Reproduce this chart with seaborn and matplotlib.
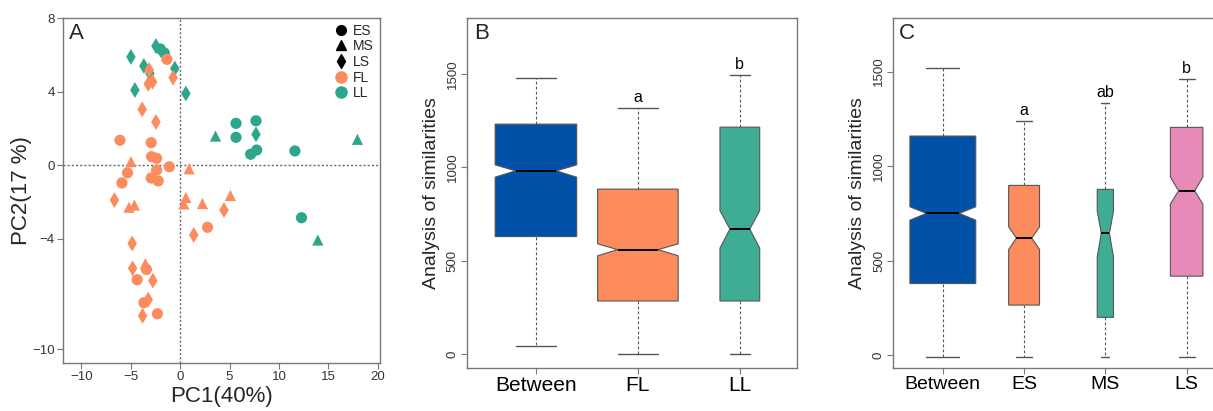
import pandas as pd
import matplotlib
matplotlib.use('Agg')
import matplotlib.pyplot as plt
import seaborn as sns
from matplotlib.lines import Line2D

# ---- Panel A: PCA scores ----
pc1_ll = [-4.98, -3.67, -3.06, -4.58, -2.45, -2.0, -1.6, -0.54, 0.58, 3.58,
          5.66, 5.66, 7.68, 7.68, 7.14, 7.75, 11.62, 17.95, 12.29, 13.94]
pc2_ll = [5.89, 5.40, 4.99, 4.09, 6.48, 6.32, 6.10, 5.26, 3.90, 1.59,
          2.28, 1.52, 2.42, 1.68, 0.60, 0.83, 0.78, 1.41, -2.85, -4.06]
stage_ll = ['LS', 'LS', 'LS', 'LS', 'LS', 'ES', 'ES', 'LS', 'LS', 'MS',
            'ES', 'ES', 'ES', 'LS', 'ES', 'ES', 'ES', 'MS', 'ES', 'MS']

pc1_fl = [-1.34, -3.13, -0.71, -3.23, -2.79, -3.84, -2.45, -6.09, -2.93, -2.89,
          -2.38, -4.98, -1.09, 0.91, -5.33, -2.38, -2.93, -2.22, -5.89, -6.65,
          -5.18, -4.63, 0.58, 0.37, 2.26, 5.09, 4.44, 2.77, 1.38, -4.85,
          -4.81, -3.52, -3.41, -4.35, -2.76, -3.23, -3.67, -3.80, -2.30]
pc2_fl = [5.76, 5.18, 4.76, 4.42, 4.54, 3.04, 2.35, 1.36, 1.23, 0.47,
          0.38, 0.20, -0.08, -0.19, -0.41, -0.26, -0.69, -0.85, -0.96, -1.89,
          -2.28, -2.16, -1.75, -2.10, -2.08, -1.64, -2.43, -3.37, -3.79, -4.25,
          -5.60, -5.34, -5.66, -6.22, -6.27, -7.30, -7.47, -8.18, -8.07]
stage_fl = ['ES', 'LS', 'LS', 'LS', 'LS', 'LS', 'LS', 'ES', 'ES', 'ES',
            'ES', 'MS', 'ES', 'MS', 'ES', 'ES', 'ES', 'ES', 'ES', 'LS',
            'MS', 'MS', 'MS', 'MS', 'MS', 'MS', 'LS', 'ES', 'LS', 'LS',
            'LS', 'MS', 'ES', 'ES', 'LS', 'LS', 'ES', 'LS', 'ES']

# ---- Panel B: ANOSIM box stats ----
b_groups = ['Between', 'FL', 'LL']
b_low = [44, 2, 2]
b_q1 = [630, 285, 285]
b_med = [982, 560, 670]
b_q3 = [1232, 884, 1216]
b_high = [1478, 1321, 1496]
b_cilo = [948, 527, 568]
b_cihi = [1014, 591, 769]
b_width = [0.80, 0.79, 0.39]
b_letters = ['', 'a', 'b']

# ---- Panel C: ANOSIM box stats ----
c_groups = ['Between', 'ES', 'MS', 'LS']
c_low = [-10, -10, -10, -10]
c_q1 = [379, 265, 200, 418]
c_med = [750, 619, 644, 869]
c_q3 = [1159, 898, 877, 1205]
c_high = [1517, 1240, 1335, 1463]
c_cilo = [714, 559, 520, 799]
c_cihi = [785, 679, 763, 943]
c_width = [0.81, 0.38, 0.20, 0.40]
c_letters = ['', 'a', 'ab', 'b']

orange = '#FC8B5E'
teal = '#2EA68B'
blue = '#0251A8'
pink = '#E88AB8'
box_teal = '#3FAD95'

sns.set_style('ticks')
plt.rcParams['font.family'] = ['Liberation Sans', 'DejaVu Sans']

fig = plt.figure(figsize=(12.13, 4.11), dpi=100)
axA = fig.add_axes([0.052, 0.117, 0.261, 0.839])
axB = fig.add_axes([0.385, 0.105, 0.272, 0.851])
axC = fig.add_axes([0.7364, 0.105, 0.2834, 0.851])

frame_col = '#777777'
text_col = '#333333'

# ---- Panel A ----
df = pd.DataFrame({
    'PC1': pc1_ll + pc1_fl,
    'PC2': pc2_ll + pc2_fl,
    'stage': stage_ll + stage_fl,
    'leaf': ['LL'] * len(pc1_ll) + ['FL'] * len(pc1_fl),
})
axA.axhline(0, color='#666666', lw=1, ls=(0, (1.5, 1.5)), zorder=1)
axA.axvline(0, color='#666666', lw=1, ls=(0, (1.5, 1.5)), zorder=1)
sns.scatterplot(data=df, x='PC1', y='PC2', hue='leaf', style='stage',
                palette={'FL': orange, 'LL': teal},
                markers={'ES': 'o', 'MS': '^', 'LS': 'd'},
                s=65, linewidth=0, legend=False, ax=axA, zorder=3)
axA.set_xlim(-11.85, 20.2)
axA.set_ylim(-10.74, 8)
axA.set_xticks([-10, -5, 0, 5, 10, 15, 20])
axA.set_yticks([8, 4, 0, -4, -10])
axA.set_xlabel('PC1(40%)', fontsize=16, labelpad=2)
axA.set_ylabel('PC2(17 %)', fontsize=16, labelpad=0)
axA.text(0.02, 0.985, 'A', transform=axA.transAxes, fontsize=16,
         va='top', ha='left')
handles = [
    Line2D([], [], marker='o', color='black', ls='none', markersize=7),
    Line2D([], [], marker='^', color='black', ls='none', markersize=7),
    Line2D([], [], marker='d', color='black', ls='none', markersize=7),
    Line2D([], [], marker='o', color=orange, ls='none', markersize=8),
    Line2D([], [], marker='o', color=teal, ls='none', markersize=8),
]
axA.legend(handles, ['ES', 'MS', 'LS', 'FL', 'LL'], loc='upper right',
           frameon=False, fontsize=10, handlelength=1.0, handletextpad=0.4,
           labelspacing=0.12, borderaxespad=0.2, borderpad=0.2)


def draw_boxes(ax, groups, low, q1, med, q3, high, cilo, cihi, widths,
               colors, letters, xlim, ylim, tick_fs):
    stats = []
    for i, g in enumerate(groups):
        stats.append(dict(label=g, whislo=low[i], q1=q1[i], med=med[i],
                          q3=q3[i], whishi=high[i], cilo=cilo[i],
                          cihi=cihi[i], fliers=[]))
    pos = list(range(len(groups)))
    parts = ax.bxp(stats, positions=pos, widths=widths, shownotches=True,
                   patch_artist=True, showfliers=False, manage_ticks=False,
                   capwidths=[w * 0.5 for w in widths],
                   boxprops=dict(edgecolor='#555555', linewidth=0.8),
                   whiskerprops=dict(color='#555555', linewidth=0.8,
                                     linestyle=(0, (2.5, 2))),
                   capprops=dict(color='#555555', linewidth=1.0),
                   medianprops=dict(color='black', linewidth=1.4))
    for patch, c in zip(parts['boxes'], colors):
        patch.set_facecolor(c)
    for i, lab in enumerate(letters):
        if lab:
            ax.annotate(lab, (pos[i], high[i]), xytext=(0, 4),
                        textcoords='offset points', ha='center',
                        va='baseline', fontsize=11.5, color='black')
    ax.set_xlim(*xlim)
    ax.set_ylim(*ylim)
    ax.set_xticks(pos)
    ax.set_xticklabels(groups, fontsize=tick_fs, color='black')
    ax.set_yticks([0, 500, 1000, 1500])
    ax.set_yticklabels(['0', '500', '1000', '1500'], rotation=90,
                       va='center', fontsize=9.5, color=text_col)
    ax.set_ylabel('Analysis of similarities', fontsize=14, labelpad=5)


draw_boxes(axB, b_groups, b_low, b_q1, b_med, b_q3, b_high, b_cilo, b_cihi,
           b_width, [blue, orange, box_teal], b_letters,
           (-0.676, 2.56), (-73, 1800), 15)
axB.text(0.022, 0.985, 'B', transform=axB.transAxes, fontsize=16,
         va='top', ha='left')

draw_boxes(axC, c_groups, c_low, c_q1, c_med, c_q3, c_high, c_cilo, c_cihi,
           c_width, [blue, orange, box_teal, pink], c_letters,
           (-0.61, 3.62), (-67, 1783), 14)
axC.text(0.015, 0.985, 'C', transform=axC.transAxes, fontsize=16,
         va='top', ha='left')

for ax in (axA, axB, axC):
    for sp in ax.spines.values():
        sp.set_visible(True)
        sp.set_color(frame_col)
        sp.set_linewidth(1.0)
    ax.tick_params(axis='both', length=4, width=0.8, color=frame_col,
                   pad=2)
    ax.tick_params(axis='y', labelcolor=text_col)
axA.tick_params(axis='both', labelsize=9.5, labelcolor=text_col)

fig.savefig('out.png', dpi=100)
